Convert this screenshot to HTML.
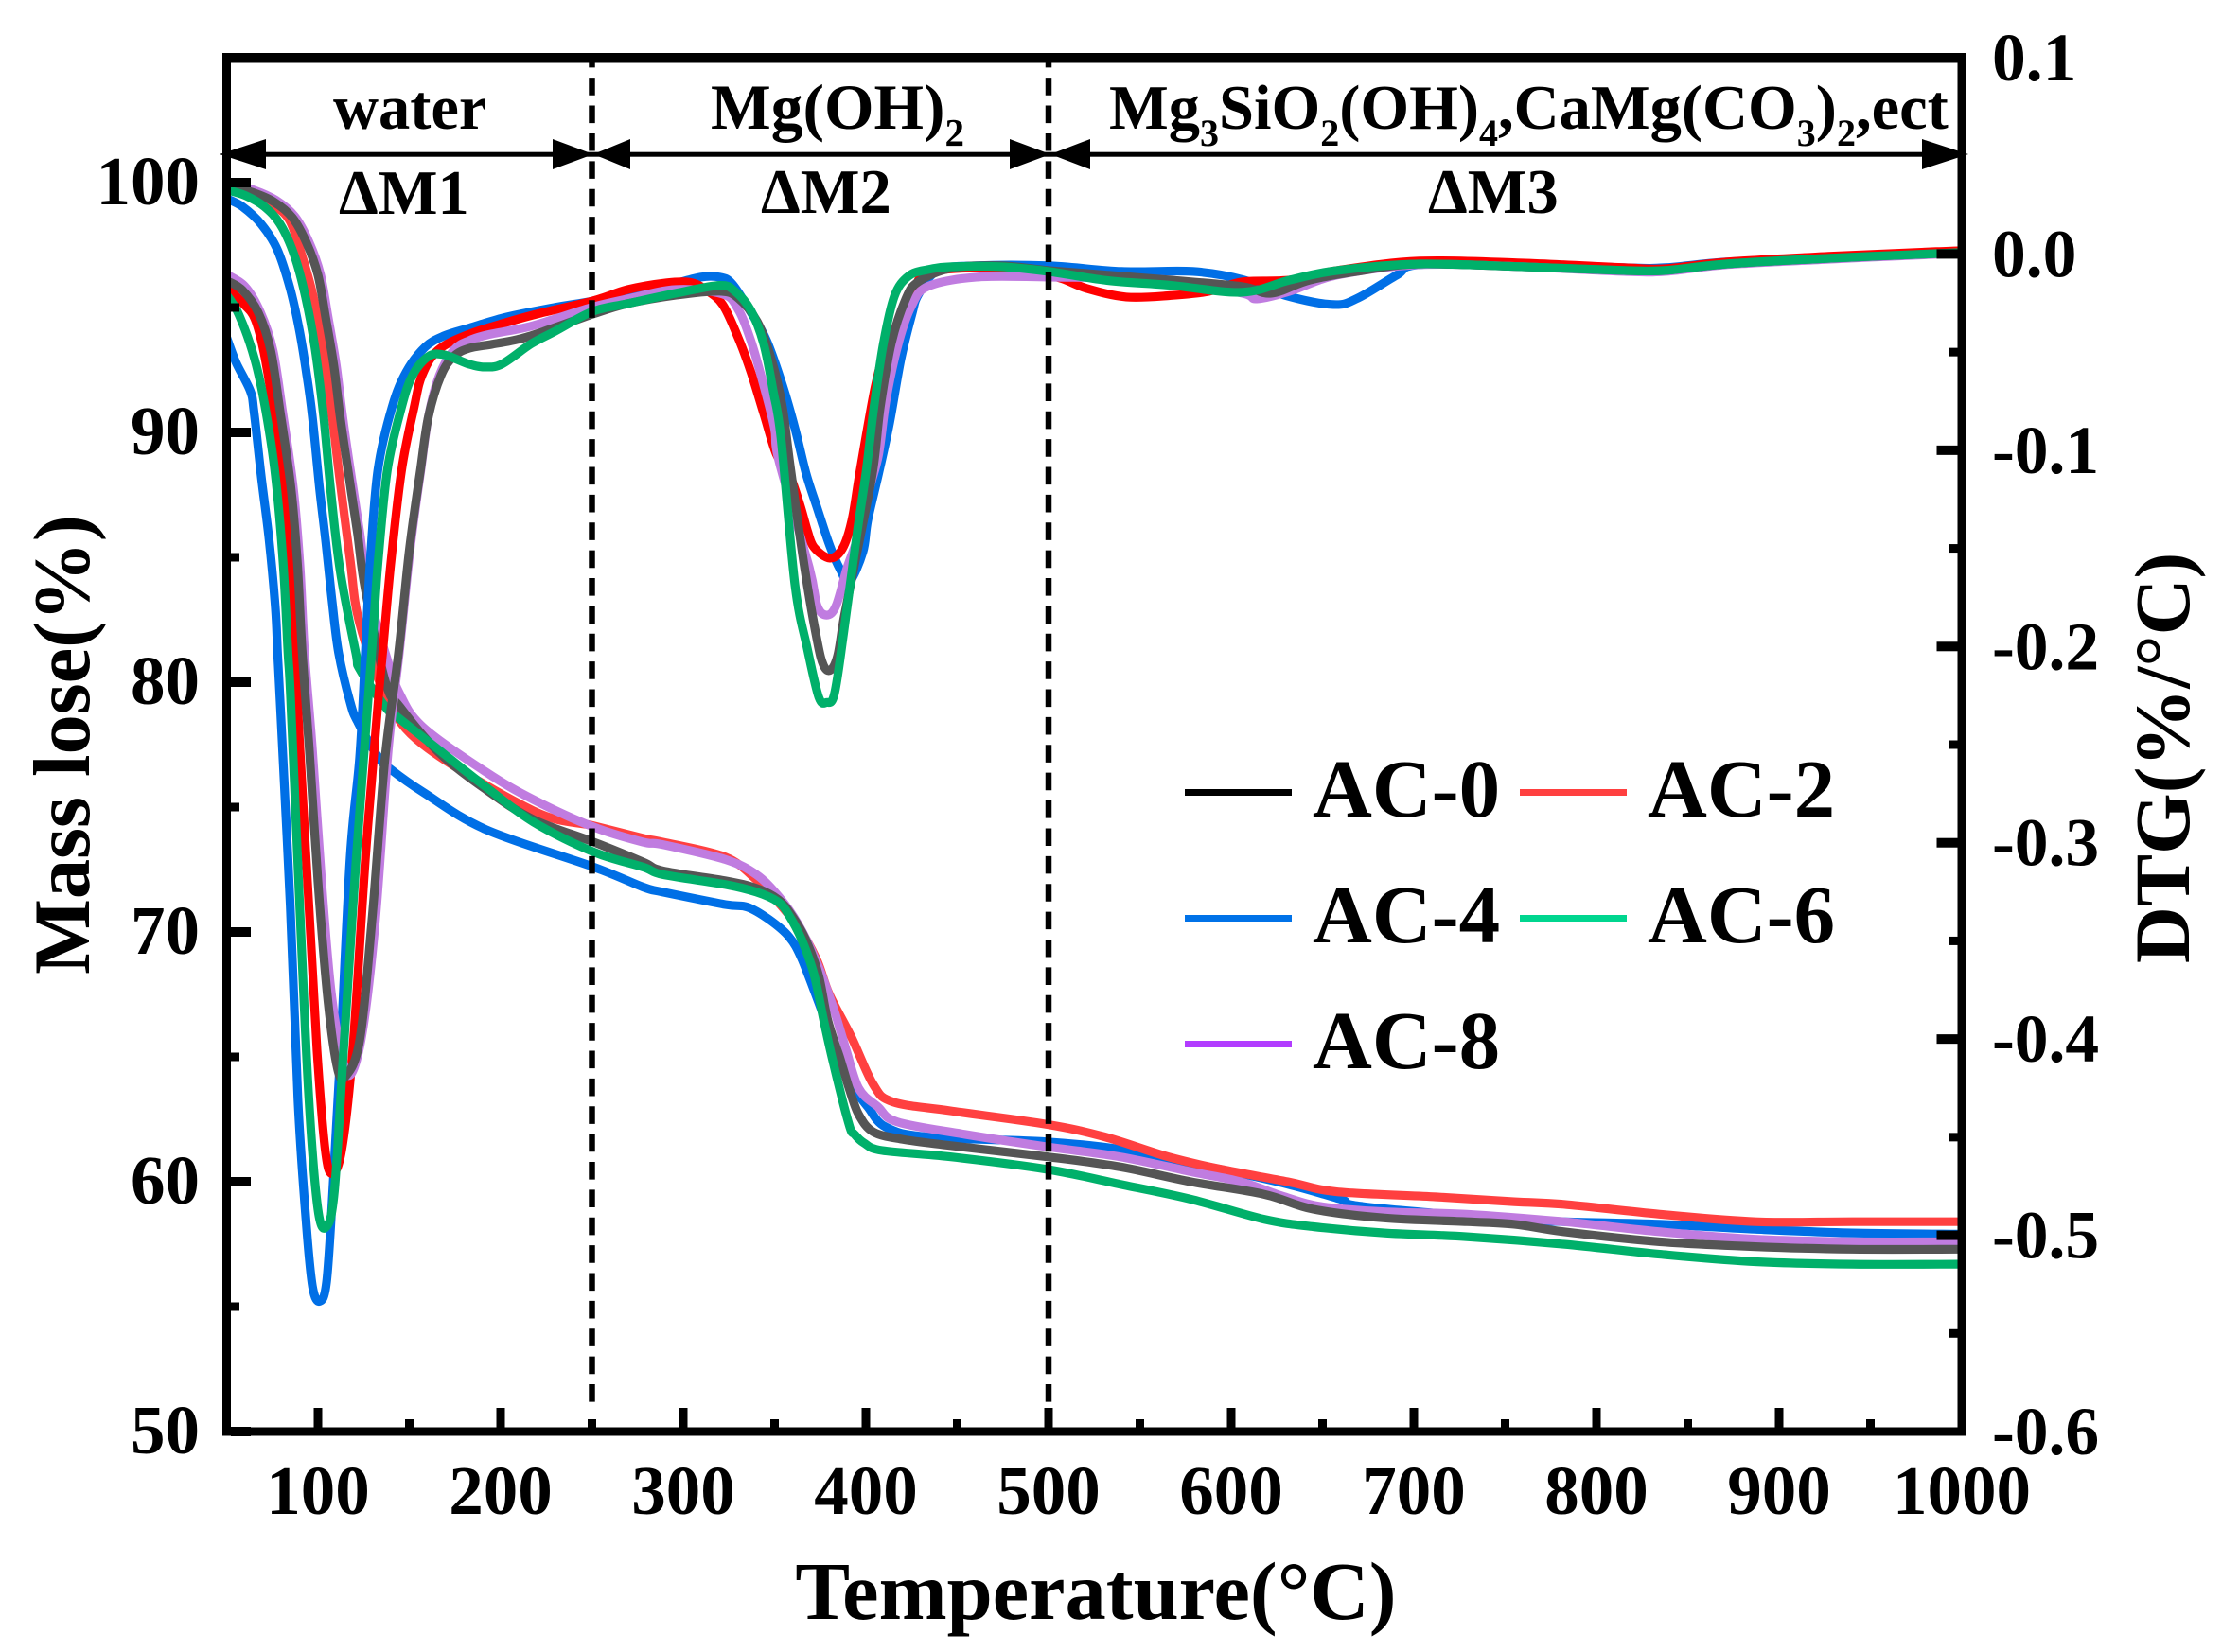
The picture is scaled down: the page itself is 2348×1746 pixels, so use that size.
<!DOCTYPE html>
<html lang="en">
<head>
<meta charset="utf-8">
<title>TG and DTG curves</title>
<style>
html,body{margin:0;padding:0;background:#fff;}
svg{display:block;font-family:"Liberation Serif","DejaVu Serif",serif;font-weight:bold;}
</style>
</head>
<body>
<svg id="chart" xmlns="http://www.w3.org/2000/svg" width="2348" height="1746" viewBox="0 0 2348 1746">
<defs><clipPath id="plot-clip"><rect x="244" y="66" width="1824.5" height="1443"/></clipPath></defs>
<rect x="0" y="0" width="2348" height="1746" fill="#fff"/>
<g id="tg-layer" clip-path="url(#plot-clip)"></g>
<g id="dtg-layer" clip-path="url(#plot-clip)"></g>
<g id="dividers"></g>
<g id="axes"></g>
<g font-size="66.5" fill="#000">
<g>
<rect x="240" y="160.7" width="1830" height="5" fill="#000"/>
<polygon points="232,163 281,147 281,179" fill="#000"/>
<polygon points="627,163 584,147 584,179" fill="#000"/>
<polygon points="627,163 666,147 666,179" fill="#000"/>
<polygon points="1110,163 1067,147 1067,179" fill="#000"/>
<polygon points="1110,163 1152,147 1152,179" fill="#000"/>
<polygon points="2080,163 2031,147 2031,179" fill="#000"/>
</g>
<text x="352" y="136">water</text>
<text x="751" y="136" font-size="67.5">Mg(OH)<tspan font-size="41" dy="18">2</tspan></text>
<text x="1172" y="136">Mg<tspan font-size="40" dy="18">3</tspan><tspan dy="-18">SiO</tspan><tspan font-size="40" dy="18">2</tspan><tspan dy="-18">(OH)</tspan><tspan font-size="40" dy="18">4</tspan><tspan dy="-18">,CaMg(CO</tspan><tspan font-size="40" dy="18">3</tspan><tspan dy="-18">)</tspan><tspan font-size="40" dy="18">2</tspan><tspan dy="-18">,ect</tspan></text>
<text x="358" y="226">ΔM1</text>
<text x="804" y="225">ΔM2</text>
<text x="1509" y="225">ΔM3</text>
</g>
<g font-size="87" fill="#000">
<g><rect x="1252" y="834" width="113" height="7" fill="#000"/><text x="1387" y="863">AC-0</text></g>
<g><rect x="1606" y="834" width="113" height="7" fill="#ff4040"/><text x="1741" y="863">AC-2</text></g>
<g><rect x="1252" y="967" width="113" height="7" fill="#0072e8"/><text x="1387" y="996">AC-4</text></g>
<g><rect x="1606" y="967" width="113" height="7" fill="#00d68f"/><text x="1741" y="996">AC-6</text></g>
<g><rect x="1252" y="1100" width="113" height="7" fill="#b23cff"/><text x="1387" y="1129">AC-8</text></g>
</g>
<text x="1158" y="1711" font-size="86.5" text-anchor="middle">Temperature(°C)</text>
<text transform="translate(94 787) rotate(-90)" font-size="84.5" text-anchor="middle">Mass lose(%)</text>
<text transform="translate(2313 801) rotate(-90)" font-size="83" text-anchor="middle">DTG(%/°C)</text>
</svg>
<script>
const xTicks = [100,200,300,400,500,600,700,800,900,1000];
const xMinorTicks = [50,150,250,350,450,550,650,750,850,950];
const massTicks = [50,60,70,80,90,100];
const massMinorTicks = [55,65,75,85,95];
const dtgTicks = [0.1,0,-0.1,-0.2,-0.3,-0.4,-0.5,-0.6];
const dtgTickLabels = ["0.1","0.0","-0.1","-0.2","-0.3","-0.4","-0.5","-0.6"];
const dtgMinorTicks = [-0.05,-0.15,-0.25,-0.35,-0.45,-0.55];
const dividerTemps = [250,500];

const seriesNames = ["AC-4","AC-2","AC-8","AC-0","AC-6"];

const tgTempAC0 = [50,63.7,75.7,86,93.8,100,104.3,108.7,112.1,116.4,121.6,125.9,137,145,166,192,218,251,278,288.7,323,340,352,360,367,374,379,386,391,396,404,420,446,499,539,578,618,645,684,729,755,782,834.6,887,940,1000];
const tgMassAC0 = [99.89,99.62,99.24,98.6,97.58,96.3,94.56,92.66,90.64,88.5,85.98,83.71,80,79,77.2,75.7,74.5,73.6,72.8,72.45,72.05,71.75,71.3,70.6,69.7,68.3,66.5,64.9,63.7,62.7,62,61.7,61.45,61,60.6,60,59.5,58.9,58.55,58.4,58.3,58,57.6,57.4,57.3,57.3];

const tgTempAC2 = [50,70,76,84.5,91.2,97.4,102.6,107.8,111.3,117.5,122.5,137,157.5,218,251,278,288.7,323,340,347,363,373,380,392,404,414.6,446.2,499,530.7,565.4,594.4,631,657.7,710.5,755,782,834.6,887,940,1000];
const tgMassAC2 = [99.8,99.45,99.1,98.48,97.08,95.45,93.42,90.64,88.5,84.96,82.44,79.5,77.5,74.85,74.25,73.75,73.6,73,72.1,71.6,70.2,68.9,67.5,65.8,63.9,63.2,62.84,62.3,61.8,61,60.5,60,59.6,59.4,59.2,59.1,58.7,58.4,58.4,58.4];

const tgTempAC4 = [50,58.6,68.9,77.6,84.5,89.6,93.9,96.9,100.9,104.3,107.8,111.3,117.6,121.8,133,140,157.5,192,251,278,288.7,323,335,347,358,365,375,385,393,401,410.6,433,499,539,565,594,631,660,673,755,782,834.6,887,940,1000];
const tgMassAC4 = [99.36,99.04,98.34,97.34,95.83,94.18,92.28,90.64,87.74,85.6,83.19,81.17,79.2,78.4,77,76.5,75.6,74.1,72.6,71.8,71.6,71.1,71,70.5,69.8,68.9,67,65,63.8,63,62.2,61.8,61.6,61.3,60.9,60.5,59.9,59.3,59,58.5,58.4,58.3,58.1,57.95,57.9];

const tgTempAC6 = [50,60.3,70.6,79.3,87.1,93.1,98.3,103.1,106.9,112.1,120.7,123,137,143.6,166,192,218,251,278,288.7,323,340,352,357.6,364.8,371.6,376.8,382,390.7,393.8,399,409,446,499,539,578,618,645,684,729,782,834.6,887,940,1000];
const tgMassAC6 = [99.71,99.48,99.04,98.34,97.08,95.45,93.42,90.64,87.74,84.47,81.17,80.5,79,78.6,77.3,75.8,74.4,73.2,72.6,72.3,71.9,71.6,71.2,70.7,69.7,68.3,66.5,64.8,62.3,61.9,61.55,61.25,61,60.5,59.9,59.3,58.5,58.2,57.95,57.8,57.5,57.1,56.8,56.7,56.7];

const tgTempAC8 = [50,65,77,87.3,95.1,101.3,105.6,110,113.4,117.7,122.9,127.2,138,145,157.5,192,218,251,278,288.7,323,340,352.5,363,373,382,388.7,396,406.6,417,454,499,539,578,605,629,650,684,729,782,834.6,887,940,1000];
const tgMassAC8 = [100,99.7,99.3,98.65,97.63,96.35,94.6,92.7,90.7,88.5,86,83.7,80.9,79.5,78.2,76.4,75.3,74.2,73.6,73.5,72.9,72.3,71.4,70.3,68.8,67,65.4,63.75,63,62.4,61.9,61.4,61,60.4,60,59.4,59,58.8,58.7,58.4,58,57.7,57.6,57.6];

const dtgTempAC0 = [50,58.6,67.2,74.1,79.3,85.3,88.8,91.4,95.2,100,105.5,110.7,115,122.8,129.6,136.6,144.1,150.1,156.1,160.5,167.4,174.3,182.9,195.4,211.4,227.3,250.6,269.6,296,320,330,340.5,348.3,354.3,358.6,366.4,373.3,376.8,380.6,384.5,388,394.4,403.6,407.9,413.9,421.7,428.6,447,473.6,500,532,566.5,606,622,643,672,703,759,815,837.6,871,927,986,1000];
const dtgValAC0 = [-.0136,-.0184,-.0297,-.049,-.0803,-.1197,-.1583,-.2033,-.2515,-.3198,-.381,-.4152,-.4191,-.4008,-.3391,-.2581,-.2033,-.1502,-.1101,-.0827,-.0618,-.0522,-.048,-.046,-.0431,-.0383,-.0306,-.0253,-.021,-.019,-.0224,-.0345,-.0538,-.0779,-.1083,-.1599,-.1969,-.2096,-.212,-.2047,-.1855,-.1554,-.1117,-.0779,-.0456,-.0232,-.0142,-.0072,-.006,-.0084,-.0108,-.0133,-.0166,-.02,-.0133,-.0084,-.0051,-.0065,-.0084,-.0084,-.0051,-.0022,.0002,.0007];

const dtgTempAC2 = [50,58.6,65.4,70.5,75.8,81,85.3,87.6,89.8,95,99.5,103.8,107.5,113,119,126,133,135.4,139.8,145.8,152.7,157,165.7,182.9,203.5,222,250.6,269.6,290.7,304,312,321.5,330,337,344,351,358,364,368,371.6,380.2,387.1,392.3,396.6,405,411,418.2,426.9,434,460.5,500,521,542.6,566.5,587.6,606,632,658,703,759,815,837.6,871,927,986,1000];
const dtgValAC2 = [-.0166,-.0248,-.0329,-.0505,-.0803,-.1165,-.1614,-.2033,-.2466,-.3321,-.4059,-.4551,-.4686,-.4565,-.4059,-.3075,-.2274,-.2033,-.1583,-.1101,-.0779,-.0618,-.049,-.0408,-.0348,-.0301,-.0239,-.0181,-.0147,-.0145,-.0181,-.0257,-.0425,-.06,-.0811,-.102,-.112,-.128,-.141,-.1495,-.155,-.1502,-.1358,-.1117,-.068,-.048,-.0345,-.0168,-.0096,-.0072,-.0108,-.0176,-.0219,-.0212,-.0191,-.0142,-.0133,-.0084,-.0036,-.0046,-.007,-.0075,-.0041,-.0012,.0012,.0017];

const dtgTempAC4 = [50,55.1,62.9,65,68.9,73.2,76.7,77.9,79.6,84.8,89,93.4,97,101,104.7,108,112.4,117.6,122.8,125.9,128.5,132.8,140.6,148.4,158.7,169.1,182.9,203.5,230,250.6,269.6,290.7,309.4,320,326.8,337,345.7,354.3,361.2,367.2,373.3,380.2,386.2,391,398.4,401,407,413,419.1,425.1,428.8,439.4,460.5,500,540,579,606,630,656,669.5,690.6,703,759,815,837.6,871,927,986,1000];
const dtgValAC4 = [-.0425,-.0552,-.0697,-.0803,-.1131,-.1454,-.1806,-.2033,-.2335,-.3321,-.4305,-.4919,-.5261,-.5336,-.5237,-.4793,-.4059,-.3075,-.2566,-.2033,-.1583,-.1101,-.0779,-.06,-.0474,-.0417,-.0377,-.0321,-.0272,-.0239,-.019,-.0161,-.0118,-.0118,-.0152,-.0297,-.0442,-.0667,-.089,-.1117,-.1294,-.1486,-.1613,-.167,-.1517,-.1358,-.1117,-.0859,-.0538,-.0311,-.0205,-.0084,-.006,-.006,-.0089,-.0089,-.013,-.0212,-.0258,-.0224,-.0108,-.0055,-.0051,-.007,-.007,-.0041,-.0017,.0007,.0012];

const dtgTempAC6 = [50,56.8,65.4,71.5,76.7,81,83.6,85.1,90,95,100,104.7,109,114,121,129.4,132.8,138,145.8,151.8,160.5,169.1,182.9,191.7,200.9,216.7,230,250.6,269.6,296,320,328.4,337,344,349.2,353.5,361.2,368.1,374.2,378.5,382.8,388,394.9,400,404.4,409.6,415.6,423.4,433.8,447,473.6,500,532,566.5,606,632,658,703,759,815,837.6,871,927,986,1000];
const dtgValAC6 = [-.0208,-.0311,-.0538,-.0803,-.1131,-.1583,-.2033,-.2276,-.3321,-.4305,-.4869,-.4956,-.4773,-.4059,-.3075,-.2033,-.1583,-.1101,-.0779,-.0618,-.0522,-.0514,-.0562,-.0576,-.056,-.0458,-.0393,-.0292,-.0253,-.02,-.016,-.0191,-.0287,-.0456,-.0697,-.0938,-.1688,-.2017,-.2258,-.2285,-.224,-.1921,-.1438,-.1117,-.0779,-.0456,-.0215,-.0112,-.008,-.0065,-.0065,-.0089,-.0135,-.0159,-.0195,-.0133,-.0084,-.0051,-.0065,-.0084,-.0084,-.0051,-.0022,.0002,.0007];

const dtgTempAC8 = [50,60,68.5,75.4,80.6,86.6,90.1,92.7,96.9,102,107,112.4,117.6,124.4,131.5,138.4,144.5,150.5,156.3,160.5,166.5,174.3,182.9,192.8,214,230,250.6,269.6,296,321.5,330,337,344,350,352.4,369,373.3,378.5,383.7,389.7,396,402,407,411.3,418.2,425.1,433.8,460.5,500,566.5,606,614,632,658,703,759,815,837.6,871,927,986,1000];
const dtgValAC8 = [-.0104,-.0165,-.0297,-.049,-.0803,-.1197,-.1583,-.2033,-.2515,-.3198,-.374,-.4059,-.4184,-.3962,-.3391,-.2535,-.2033,-.1502,-.1101,-.0827,-.0618,-.049,-.0441,-.0412,-.0374,-.033,-.027,-.0229,-.0181,-.0204,-.0281,-.0441,-.0667,-.089,-.1054,-.1599,-.1792,-.184,-.1792,-.1599,-.143,-.1194,-.102,-.0731,-.0441,-.0263,-.0166,-.0118,-.0118,-.0133,-.02,-.0229,-.019,-.0108,-.0055,-.0065,-.0089,-.0089,-.0055,-.0027,-.0002,.0002];

const tgColors = {"AC-0":"#555555","AC-2":"#ff4040","AC-4":"#006fe6","AC-6":"#00b06a","AC-8":"#c07ce0"};
const dtgColors = {"AC-0":"#555555","AC-2":"#ff0000","AC-4":"#006fe6","AC-6":"#00b06a","AC-8":"#c07ce0"};

const NS = "http://www.w3.org/2000/svg";
const plot = {left:239.5,right:2073,top:61,bottom:1513};
function xScale(t){ return plot.left + (t-50)*(plot.right-plot.left)/950; }
function massScale(m){ return plot.bottom - (m-50)*(plot.bottom-plot.top)/55; }
function dtgScale(v){ return plot.top + (0.1-v)*(plot.bottom-plot.top)/0.7; }

function smoothPath(pts){
  let d = "M"+pts[0][0].toFixed(1)+" "+pts[0][1].toFixed(1);
  for(let i=0;i<pts.length-1;i++){
    const p0=pts[Math.max(i-1,0)],p1=pts[i],p2=pts[i+1],p3=pts[Math.min(i+2,pts.length-1)];
    const c1x=p1[0]+(p2[0]-p0[0])/6,c1y=p1[1]+(p2[1]-p0[1])/6;
    const c2x=p2[0]-(p3[0]-p1[0])/6,c2y=p2[1]-(p3[1]-p1[1])/6;
    d+="C"+c1x.toFixed(1)+" "+c1y.toFixed(1)+" "+c2x.toFixed(1)+" "+c2y.toFixed(1)+" "+p2[0].toFixed(1)+" "+p2[1].toFixed(1);
  }
  return d;
}
function box(parent,x,y,w,h){
  const r=document.createElementNS(NS,"rect");
  r.setAttribute("x",x);r.setAttribute("y",y);r.setAttribute("width",w);r.setAttribute("height",h);r.setAttribute("fill","#000");
  parent.appendChild(r);
  return r;
}
function label(parent,x,y,str,anchor,size){
  const t=document.createElementNS(NS,"text");
  t.setAttribute("x",x);t.setAttribute("y",y);t.setAttribute("font-size",size);t.setAttribute("fill","#000");t.setAttribute("text-anchor",anchor);
  t.textContent=str;
  parent.appendChild(t);
  return t;
}

const tgLayer=document.getElementById("tg-layer");
const dtgLayer=document.getElementById("dtg-layer");
const tgTemps={"AC-0":tgTempAC0,"AC-2":tgTempAC2,"AC-4":tgTempAC4,"AC-6":tgTempAC6,"AC-8":tgTempAC8};
const tgVals={"AC-0":tgMassAC0,"AC-2":tgMassAC2,"AC-4":tgMassAC4,"AC-6":tgMassAC6,"AC-8":tgMassAC8};
const dtgTemps={"AC-0":dtgTempAC0,"AC-2":dtgTempAC2,"AC-4":dtgTempAC4,"AC-6":dtgTempAC6,"AC-8":dtgTempAC8};
const dtgVals={"AC-0":dtgValAC0,"AC-2":dtgValAC2,"AC-4":dtgValAC4,"AC-6":dtgValAC6,"AC-8":dtgValAC8};
seriesNames.forEach(function(name){
  const slug=name.toLowerCase();
  const tg=document.createElementNS(NS,"path");
  tg.setAttribute("d",smoothPath(tgTemps[name].map(function(t,i){return [xScale(t),massScale(tgVals[name][i])];})));
  tg.setAttribute("fill","none");tg.setAttribute("stroke",tgColors[name]);tg.setAttribute("stroke-width","9.2");tg.setAttribute("stroke-linejoin","round");
  
  
  tgLayer.appendChild(tg);
  const dtg=document.createElementNS(NS,"path");
  dtg.setAttribute("d",smoothPath(dtgTemps[name].map(function(t,i){return [xScale(t),dtgScale(dtgVals[name][i])];})));
  dtg.setAttribute("fill","none");dtg.setAttribute("stroke",dtgColors[name]);dtg.setAttribute("stroke-width","9.2");dtg.setAttribute("stroke-linejoin","round");
  
  
  dtgLayer.appendChild(dtg);
});

const dividers=document.getElementById("dividers");
dividerTemps.forEach(function(t){
  const l=document.createElementNS(NS,"line");
  l.setAttribute("x1",xScale(t));l.setAttribute("x2",xScale(t));l.setAttribute("y1","66");l.setAttribute("y2","1489");
  l.setAttribute("stroke","#000");l.setAttribute("stroke-width","6.5");l.setAttribute("stroke-dasharray","18.6 10.78");l.setAttribute("stroke-dashoffset","13.2");
  
  
  dividers.appendChild(l);
});

const axes=document.getElementById("axes");
const leftSpine=box(axes,235,56,9,1461.5);


const rightSpine=box(axes,2068.5,56,9,1461.5);


const topSpine=box(axes,235,56,1842.5,10.5);


const bottomSpine=box(axes,235,1508.5,1842.5,9);



xTicks.forEach(function(t){
  const m=box(axes,xScale(t)-4.5,1488,9,21);
  
  
  const l=label(axes,xScale(t),1600,String(t),"middle","73");
  
  
});
xMinorTicks.forEach(function(t){
  const m=box(axes,xScale(t)-4.5,1500,9,9);
  
  
});
massTicks.forEach(function(v){
  const m=box(axes,244,massScale(v)-5,21,10);
  
  
  const l=label(axes,211,massScale(v)+23,String(v),"end","73");
  
  
});
massMinorTicks.forEach(function(v){
  const m=box(axes,244,massScale(v)-4.5,9,9);
  
  
});
dtgTicks.forEach(function(v,i){
  if(v<0.05 && v>-0.55){
    const m=box(axes,2046.5,dtgScale(v)-5,22,10);
    
    
  }
  const l=label(axes,2105,dtgScale(v)+24,dtgTickLabels[i],"start","71.5");
  
  
});
dtgMinorTicks.forEach(function(v){
  const m=box(axes,2059.5,dtgScale(v)-4.5,9,9);
  
  
});
</script>
</body>
</html>
